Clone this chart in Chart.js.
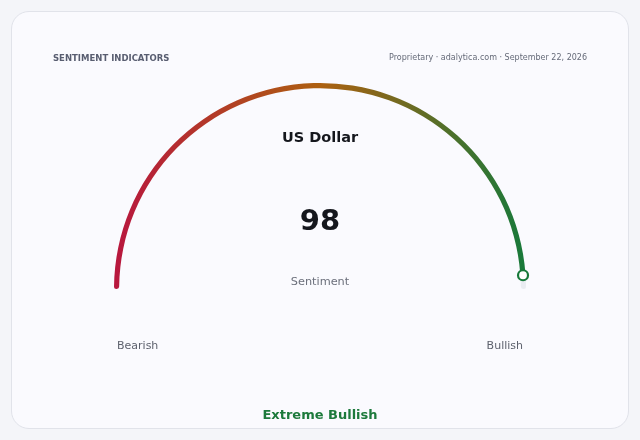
<!DOCTYPE html>
<html>
<head>
<meta charset="utf-8">
<script src="https://cdn.jsdelivr.net/npm/chart.js@4.4.1/dist/chart.umd.min.js"></script>
<style>
    html, body { margin: 0; padding: 0; background: #f4f5f9; }
    body { width: 640px; height: 440px; position: relative; overflow: hidden; font-family: "DejaVu Sans", sans-serif; }
    .card {
        position: absolute; left: 11px; top: 11px; width: 616px; height: 416px;
        background: #fafafe; border: 1px solid #e1e3ea; border-radius: 18px;
    }
    .wrap { position: absolute; left: 0; top: 0; width: 640px; height: 440px; }
    .txt { position: absolute; white-space: nowrap; }
    #hdr { left: 53px; top: 53px; font-size: 8.5px; font-weight: bold; color: #585d70; }
    #src { right: 53px; top: 53px; font-size: 8px; color: #656a78; }
    #lo { left: 117px; top: 339px; font-size: 11px; color: #5d616d; }
    #hi { right: 117px; top: 339px; font-size: 11px; color: #5d616d; }
    #verdict { left: 0; width: 640px; text-align: center; top: 407px; font-size: 13px; font-weight: bold; color: #1d7a3c; }
</style>
</head>
<body>
<div class="card"></div>
<div class="wrap"><canvas id="gauge"></canvas></div>
<div class="txt" id="hdr"></div>
<div class="txt" id="src"></div>
<div class="txt" id="lo"></div>
<div class="txt" id="hi"></div>
<div class="txt" id="verdict"></div>
<script>
// gauge data
const segmentNames = ['Sentiment', 'Remainder'];
const segmentValues = [98, 2];
const scaleEnds = ['Bearish', 'Bullish'];
const gaugeTitle = 'US Dollar';
const gaugeCaption = 'Sentiment';
const gaugeReading = 'Extreme Bullish';
const headerText = 'SENTIMENT INDICATORS';
const sourceText = 'Proprietary \u00b7 adalytica.com \u00b7 September 22, 2026';

document.getElementById('hdr').textContent = headerText;
document.getElementById('src').textContent = sourceText;
document.getElementById('lo').textContent = scaleEnds[0];
document.getElementById('hi').textContent = scaleEnds[1];
document.getElementById('verdict').textContent = gaugeReading;

function segmentColor(context) {
    if (context.dataIndex === 1) return 'rgba(214, 219, 229, 0.45)';
    const area = context.chart.chartArea;
    if (!area) return '#b45309';
    const g = context.chart.ctx.createLinearGradient(area.left, 0, area.right, 0);
    g.addColorStop(0, '#b8163e');
    g.addColorStop(0.5, '#ad6010');
    g.addColorStop(1, '#17793a');
    return g;
}

// marker + centre labels
const gaugeDecor = {
    id: 'gaugeDecor',
    afterDatasetsDraw(chart) {
        const arc = chart.getDatasetMeta(0).data[0];
        if (!arc) return;
        const ctx = chart.ctx;
        const cx = arc.x, cy = arc.y;
        const r = (arc.outerRadius + arc.innerRadius) / 2;
        const a = arc.endAngle;
        ctx.save();
        ctx.beginPath();
        ctx.arc(cx + r * Math.cos(a), cy + r * Math.sin(a) - 1, 5, 0, Math.PI * 2);
        ctx.fillStyle = '#ffffff';
        ctx.fill();
        ctx.lineWidth = 2.2;
        ctx.strokeStyle = '#17793a';
        ctx.stroke();

        ctx.textAlign = 'center';
        ctx.textBaseline = 'middle';
        ctx.fillStyle = '#15171d';
        ctx.font = 'bold 14.5px "DejaVu Sans"';
        ctx.fillText(gaugeTitle, cx, cy - 151);
        ctx.font = 'bold 29px "DejaVu Sans"';
        ctx.fillText(String(segmentValues[0]), cx, cy - 67);
        ctx.fillStyle = '#6b6f7b';
        ctx.font = '11.3px "DejaVu Sans"';
        ctx.fillText(gaugeCaption, cx, cy - 7);
        ctx.restore();
    }
};

new Chart(document.getElementById('gauge').getContext('2d'), {
    type: 'doughnut',
    data: {
        labels: segmentNames,
        datasets: [{
            data: segmentValues,
            backgroundColor: segmentColor,
            borderWidth: 0,
            borderRadius: 2.5,
            hoverOffset: 0
        }]
    },
    options: {
        responsive: true,
        maintainAspectRatio: false,
        animation: false,
        rotation: -90,
        circumference: 180,
        cutout: '97.5%',
        layout: {
            padding: { left: 114, right: 114, top: 83, bottom: 151 }
        },
        plugins: {
            legend: { display: false },
            tooltip: { enabled: false }
        }
    },
    plugins: [gaugeDecor]
});
</script>
</body>
</html>
